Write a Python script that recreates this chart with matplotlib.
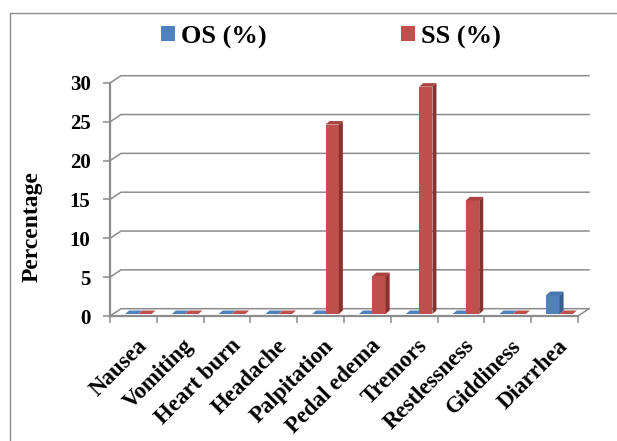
import matplotlib
matplotlib.use("Agg")
import matplotlib.pyplot as plt
from matplotlib.patches import Polygon, Rectangle
from matplotlib.lines import Line2D
from matplotlib.transforms import ScaledTranslation

categories = ["Nausea", "Vomiting", "Heart burn", "Headache", "Palpitation",
              "Pedal edema", "Tremors", "Restlessness", "Giddiness", "Diarrhea"]
os_values = [0, 0, 0, 0, 0, 0, 0, 0, 0, 2.44]
ss_values = [0, 0, 0, 0, 24.39, 4.88, 29.27, 14.63, 0, 0]
series_names = ["OS (%)", "SS (%)"]
y_ticks = [0, 5, 10, 15, 20, 25, 30]

plt.rcParams['font.family'] = ['Liberation Serif', 'DejaVu Serif']
plt.rcParams['font.weight'] = 'bold'

W, H, DPI = 617, 441, 100
fig = plt.figure(figsize=(W / DPI, H / DPI), dpi=DPI)

# axes geometry (pixels)
px_x0, px_unit_x = 110, 46.8
px_y0_from_bottom, px_unit_y = 125, 7.767
xmax, ymax = 10.35, 31.3
ax = fig.add_axes([px_x0 / W, px_y0_from_bottom / H,
                   xmax * px_unit_x / W, ymax * px_unit_y / H])
ax.set_xlim(0, xmax)
ax.set_ylim(0, ymax)

grid_col = "#8c8c8c"
# depth of the back wall (data units)
dxu = 11 / px_unit_x
dyu = 7.3 / px_unit_y
# bar geometry
bar_base = 0.322
bar_w = 0.284
bdx = 4 / px_unit_x
bdy = 3.5 / px_unit_y
yb = 2 / px_unit_y

# gridlines on back wall with left stubs
for v in y_ticks:
    ax.plot([0, dxu, len(categories) + dxu], [v, v + dyu, v + dyu],
            color=grid_col, lw=1.1, solid_joinstyle='miter', zorder=1, clip_on=False)
# floor right edge
n = len(categories)
ax.plot([n, n + dxu], [0, dyu], color=grid_col, lw=1.1, zorder=1, clip_on=False)

colors = [
    {"front": "#4f81bd", "side": "#345f92", "top": "#4674ab"},
    {"front": "#c0504d", "side": "#8a302e", "top": "#a9423f"},
]
series = [os_values, ss_values]

for i in range(n):
    for s, vals in enumerate(series):
        v = vals[i]
        c = colors[s]
        xl = i + bar_base + s * bar_w
        xr = xl + bar_w
        if v > 0:
            ax.add_patch(Rectangle((xl, yb), bar_w, v, facecolor=c["front"],
                                   edgecolor='none', zorder=3, clip_on=False))
            ax.add_patch(Polygon([(xr, yb), (xr + bdx, yb + bdy),
                                  (xr + bdx, yb + v + bdy), (xr, yb + v)],
                                 closed=True, facecolor=c["side"], edgecolor='none',
                                 zorder=3, clip_on=False))
        ax.add_patch(Polygon([(xl, yb + v), (xr, yb + v), (xr + bdx, yb + v + bdy),
                              (xl + bdx, yb + v + bdy)],
                             closed=True, facecolor=c["top"] if v > 0 else c["front"],
                             edgecolor='none', zorder=3, clip_on=False))

# spines / axes
for sp in ["top", "right"]:
    ax.spines[sp].set_visible(False)
ax.spines['left'].set_bounds(0, 30)
ax.spines['bottom'].set_bounds(0, n)
for sp in ["left", "bottom"]:
    ax.spines[sp].set_color(grid_col)
    ax.spines[sp].set_linewidth(1.6)
    ax.spines[sp].set_zorder(2)

ax.set_yticks(y_ticks)
ax.set_yticklabels([str(t) for t in y_ticks])
ax.tick_params(axis='y', direction='out', length=5, width=1.1, color=grid_col,
               pad=9, labelsize=15)

ax.set_xticks([i + 0.5 for i in range(n)])
ax.set_xticklabels(categories, rotation=45, ha='right', rotation_mode='anchor')
ax.set_xticks(list(range(n + 1)), minor=True)
ax.tick_params(axis='x', which='major', length=0, pad=14, labelsize=16.5)
ax.tick_params(axis='x', which='minor', direction='out', length=5, width=1.1,
               color=grid_col)
for lab in ax.get_xticklabels():
    lab.set_fontweight('bold')
    lab.set_transform(lab.get_transform() + ScaledTranslation(3 / DPI, 0, fig.dpi_scale_trans))
for lab in ax.get_yticklabels():
    lab.set_fontweight('bold')

ax.set_ylabel("Percentage", fontsize=17, fontweight='bold')
ax.yaxis.set_label_coords((32.5 - px_x0) / (xmax * px_unit_x),
                          (441 - 227 - px_y0_from_bottom) / (ymax * px_unit_y))
ax.yaxis.label.set_verticalalignment('center')

# legend
handles = [Rectangle((0, 0), 1, 1, facecolor=colors[s]["front"], edgecolor='none')
           for s in range(2)]
fig.legend(handles, series_names, loc='center', bbox_to_anchor=(0.537, 0.916),
           ncol=2, frameon=False, prop={'family': 'Liberation Serif', 'weight': 'bold',
                                        'size': 19},
           handlelength=0.5, handleheight=0.5, handletextpad=0.25, columnspacing=5.1)

# outer chart frame (cropped on right and bottom)
fx, fy = 10.5 / W, 1 - 12.5 / H
fig.lines.append(Line2D([fx, fx, 1.02], [-0.02, fy, fy], transform=fig.transFigure,
                        color="#8c8c8c", lw=1.0, solid_capstyle='butt'))

fig.savefig("out.png", dpi=DPI)
